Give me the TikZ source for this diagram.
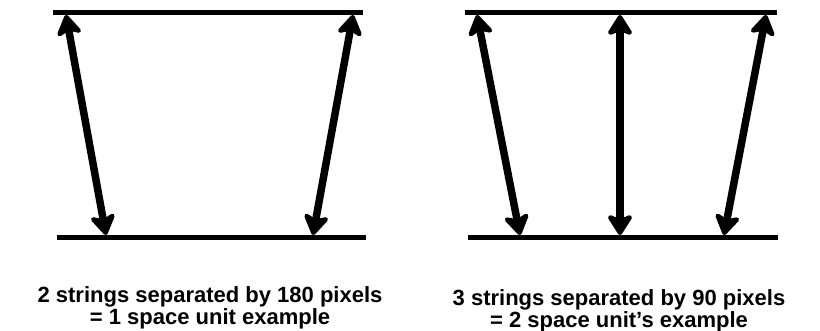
\documentclass[tikz,border=0pt]{standalone}
\usepackage{fontspec}
\setmainfont{Liberation Sans}
\usetikzlibrary{arrows.meta}
\begin{document}
\begin{tikzpicture}[x=1pt,y=-1pt,
  string/.style={line width=5pt},
  dbl/.style={line width=7.5pt,{Stealth[length=24pt,width=30pt,inset=6pt,round]}-{Stealth[length=24pt,width=30pt,inset=6pt,round]}},
  caption/.style={font=\bfseries\fontsize{22}{22}\selectfont,align=center,inner sep=0pt}]
\useasboundingbox (0,0) rectangle (820,331);
% left diagram
\coordinate (LT1) at (53,12.5);
\coordinate (LT2) at (363,12.5);
\coordinate (LB1) at (57,237.5);
\coordinate (LB2) at (366,237.5);
\draw[string] (LT1) -- (LT2);
\draw[string] (LB1) -- (LB2);
\coordinate (la1) at (66,15);
\coordinate (la2) at (106,235);
\coordinate (lb1) at (353,15);
\coordinate (lb2) at (313,235);
\draw[dbl] (la1) -- (la2);
\draw[dbl] (lb1) -- (lb2);
% right diagram
\coordinate (RT1) at (465,12.5);
\coordinate (RT2) at (777,12.5);
\coordinate (RB1) at (468,237.5);
\coordinate (RB2) at (778,237.5);
\draw[string] (RT1) -- (RT2);
\draw[string] (RB1) -- (RB2);
\coordinate (ra1) at (477,15);
\coordinate (ra2) at (520,235);
\coordinate (rb1) at (620,15);
\coordinate (rb2) at (620,235);
\coordinate (rc1) at (766,15);
\coordinate (rc2) at (724,235);
\draw[dbl] (ra1) -- (ra2);
\draw[dbl] (rb1) -- (rb2);
\draw[dbl] (rc1) -- (rc2);
% captions
\node[caption] (capL) at (210,307.5) {2 strings separated by 180 pixels\\= 1 space unit example};
\node[caption] (capR) at (619,310.5) {3 strings separated by 90 pixels\\= 2 space unit’s example};
\end{tikzpicture}
\end{document}
